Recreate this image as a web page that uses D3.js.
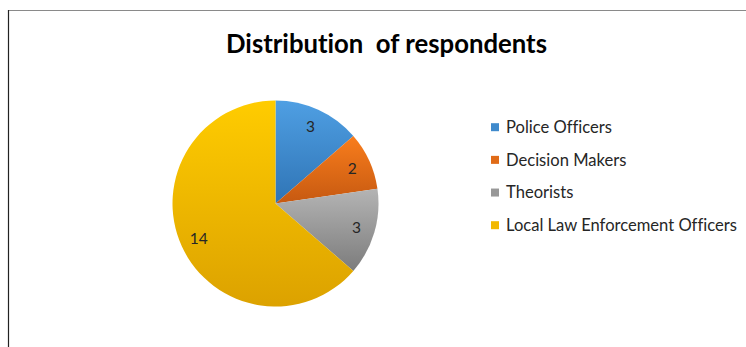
<!DOCTYPE html>
<html>
<head>
<meta charset="utf-8">
<script src="https://cdn.jsdelivr.net/npm/d3@7"></script>
<style>
  html, body { margin: 0; padding: 0; background: #fff; }
  svg { display: block; }
  text { font-variant-ligatures: none; font-feature-settings: "liga" 0, "clig" 0; }
</style>
</head>
<body>
<svg id="chart" width="746" height="347"></svg>
<script>
// Respondent groups and their counts
const categories = ["Police Officers", "Decision Makers", "Theorists", "Local Law Enforcement Officers"];
const counts = [3, 2, 3, 14];
// Light (top) and dark (bottom) shade of each slice fill
const shadeTop = ["#4f9fe3", "#f97d1c", "#b4b4b4", "#ffcc00"];
const shadeBottom = ["#2f74b5", "#c65911", "#7c7c7c", "#dca200"];
const titleText = "Distribution  of respondents";

const W = 746, H = 347;
const svg = d3.select("#chart");
const font = "Lato, 'Open Sans', sans-serif";

// Chart frame
svg.append("line").attr("x1", 8).attr("x2", W).attr("y1", 10.5).attr("y2", 10.5)
  .attr("stroke", "#8a8a8a").attr("stroke-width", 1.2);
svg.append("line").attr("x1", 8.5).attr("x2", 8.5).attr("y1", 10).attr("y2", H)
  .attr("stroke", "#222").attr("stroke-width", 1.2);

// Title, sized to span its allotted width
const title = svg.append("text")
  .attr("x", 386.5).attr("y", 53)
  .attr("text-anchor", "middle")
  .attr("font-family", font).attr("font-weight", 700)
  .attr("font-size", 20).attr("fill", "#000")
  .style("white-space", "pre")
  .text(titleText);
const tw = title.node().getComputedTextLength();
title.attr("font-size", 20 * 321 / tw);

// Gradients, one per slice
const defs = svg.append("defs");
categories.forEach((c, i) => {
  const g = defs.append("linearGradient").attr("id", "grad" + i)
    .attr("x1", 0).attr("y1", 0).attr("x2", 0).attr("y2", 1);
  g.append("stop").attr("offset", "0%").attr("stop-color", shadeTop[i]);
  g.append("stop").attr("offset", "100%").attr("stop-color", shadeBottom[i]);
});

// Pie
const cx = 275.5, cy = 203.5, R = 103;
const pie = d3.pie().sort(null).value(d => d)(counts);
const arc = d3.arc().innerRadius(0).outerRadius(R);
const labelArc = d3.arc().innerRadius(R * 0.82).outerRadius(R * 0.82);
const gPie = svg.append("g").attr("transform", `translate(${cx},${cy})`);
gPie.selectAll("path.slice").data(pie).join("path")
  .attr("class", "slice")
  .attr("d", arc)
  .attr("fill", (d, i) => `url(#grad${i})`);

gPie.selectAll("text.val").data(pie).join("text")
  .attr("class", "val")
  .attr("transform", d => `translate(${labelArc.centroid(d)})`)
  .attr("text-anchor", "middle")
  .attr("dy", "0.36em")
  .attr("font-family", font).attr("font-size", 15.5)
  .attr("fill", "#262626")
  .text(d => d.data);

// Legend
const legendY = d3.scalePoint().domain(categories).range([127, 225]);
const gLeg = svg.append("g");
const items = gLeg.selectAll("g").data(categories).join("g")
  .attr("transform", d => `translate(0,${legendY(d)})`);
items.append("rect")
  .attr("x", 491).attr("y", -3.8).attr("width", 8).attr("height", 8)
  .attr("fill", (d, i) => i === 3 ? "#f2b800" : d3.interpolateRgb(shadeTop[i], shadeBottom[i])(0.5));
const legText = items.append("text")
  .attr("x", 506).attr("dy", "0.36em")
  .attr("font-family", font).attr("font-size", 14)
  .attr("fill", "#262626")
  .text(d => d);
// scale legend font so the longest entry spans its width
const longest = legText.filter((d, i) => i === 3).node().getComputedTextLength();
legText.attr("font-size", 14 * 231 / longest);
</script>
</body>
</html>
